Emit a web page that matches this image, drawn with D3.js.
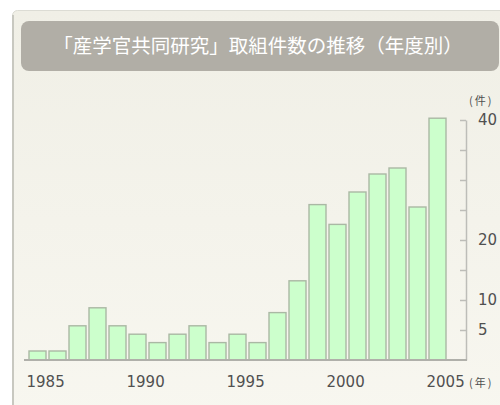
<!DOCTYPE html>
<html>
<head>
<meta charset="utf-8">
<script src="https://cdn.jsdelivr.net/npm/d3@7"></script>
<style>
  body { margin: 0; background: #fff; }
  svg { display: block; }
</style>
</head>
<body>
<div id="chart"></div>
<script>
// ------- Data -------
const years = d3.range(1985, 2006);
const counts = [1.5, 1.5, 5.7, 8.7, 5.7, 4.3, 2.9, 4.3, 5.7, 2.9, 4.3,
                2.9, 7.9, 13.2, 25.9, 22.6, 28, 31, 32, 25.5, 40.3];
const xLabels = [1985, 1990, 1995, 2000, 2005];
const yTicks = [5, 10, 15, 20, 25, 30, 35, 40];
const yLabels = [5, 10, 20, 40];
const title = "「産学官共同研究」取組件数の推移（年度別）";

const data = years.map((y, i) => ({ year: y, value: counts[i] }));

// ------- Setup -------
const W = 500, H = 405;
const svg = d3.select("#chart").append("svg")
  .attr("width", W)
  .attr("height", H);

const defs = svg.append("defs");
const grad = defs.append("linearGradient")
  .attr("id", "panelBg")
  .attr("x1", 0).attr("y1", 0).attr("x2", 0).attr("y2", 1);
grad.append("stop").attr("offset", "0%").attr("stop-color", "#f0efe6");
grad.append("stop").attr("offset", "100%").attr("stop-color", "#f8f7f0");

// panel
svg.append("rect")
  .attr("x", 12.5).attr("y", 10.5)
  .attr("width", 500).attr("height", 420)
  .attr("rx", 5)
  .attr("fill", "url(#panelBg)")
  .attr("stroke", "#dcdcd4");

svg.append("line")
  .attr("x1", 13).attr("x2", 13)
  .attr("y1", 15).attr("y2", H)
  .attr("stroke", "#c8c8c0")
  .attr("stroke-width", 2);

// title bar
svg.append("rect")
  .attr("x", 21).attr("y", 21)
  .attr("width", 478).attr("height", 50)
  .attr("rx", 8)
  .attr("fill", "#b1aea6");

svg.append("text")
  .attr("x", 258).attr("y", 53)
  .attr("text-anchor", "middle")
  .attr("font-family", "'Noto Sans CJK JP', sans-serif")
  .attr("font-size", 19.5)
  .attr("fill", "#fff")
  .text(title);

// ------- Scales -------
const x = d3.scaleBand()
  .domain(years)
  .range([27.5, 447.5])
  .paddingInner(0.15)
  .paddingOuter(0.075);

const y = d3.scaleLinear()
  .domain([0, 40])
  .range([360, 120]);

const axisX = 466;

// ------- Bars -------
svg.append("g")
  .selectAll("rect")
  .data(data)
  .enter()
  .append("rect")
  .attr("x", d => x(d.year))
  .attr("y", d => y(d.value))
  .attr("width", x.bandwidth())
  .attr("height", d => y(0) - y(d.value))
  .attr("fill", "#ccffcc")
  .attr("stroke", "#aab8a4")
  .attr("stroke-width", 1.4);

// ------- Y axis (ticks inward, labels right) -------
const yAxis = svg.append("g")
  .attr("transform", `translate(${axisX},0)`)
  .call(d3.axisRight(y)
    .tickValues(yTicks)
    .tickSizeInner(-6)
    .tickSizeOuter(0)
    .tickPadding(12)
    .tickFormat(d => yLabels.includes(d) ? d : ""));

yAxis.select(".domain").attr("stroke", "#bdbdb8").attr("stroke-width", 1.5);
yAxis.selectAll(".tick line").attr("stroke", "#bdbdb8").attr("stroke-width", 1.5);
yAxis.selectAll(".tick text")
  .attr("font-family", "'DejaVu Sans', sans-serif")
  .attr("font-size", 15)
  .attr("fill", "#505050");

svg.append("text")
  .attr("x", 469).attr("y", 105)
  .attr("font-family", "'Noto Sans CJK JP', sans-serif")
  .attr("font-size", 11)
  .attr("letter-spacing", 2)
  .attr("fill", "#505050")
  .text("(件)");

// ------- X axis -------
svg.append("line")
  .attr("x1", 24).attr("x2", axisX + 1)
  .attr("y1", y(0)).attr("y2", y(0))
  .attr("stroke", "#b0b0aa")
  .attr("stroke-width", 2);

svg.append("g")
  .selectAll("text")
  .data(xLabels)
  .enter()
  .append("text")
  .attr("x", d => x(d) - 2.5)
  .attr("y", 387)
  .attr("font-family", "'DejaVu Sans', sans-serif")
  .attr("font-size", 15)
  .attr("fill", "#505050")
  .text(d => d);

svg.append("text")
  .attr("x", 469).attr("y", 387)
  .attr("font-family", "'Noto Sans CJK JP', sans-serif")
  .attr("font-size", 11)
  .attr("letter-spacing", 2)
  .attr("fill", "#505050")
  .text("(年)");
</script>
</body>
</html>
